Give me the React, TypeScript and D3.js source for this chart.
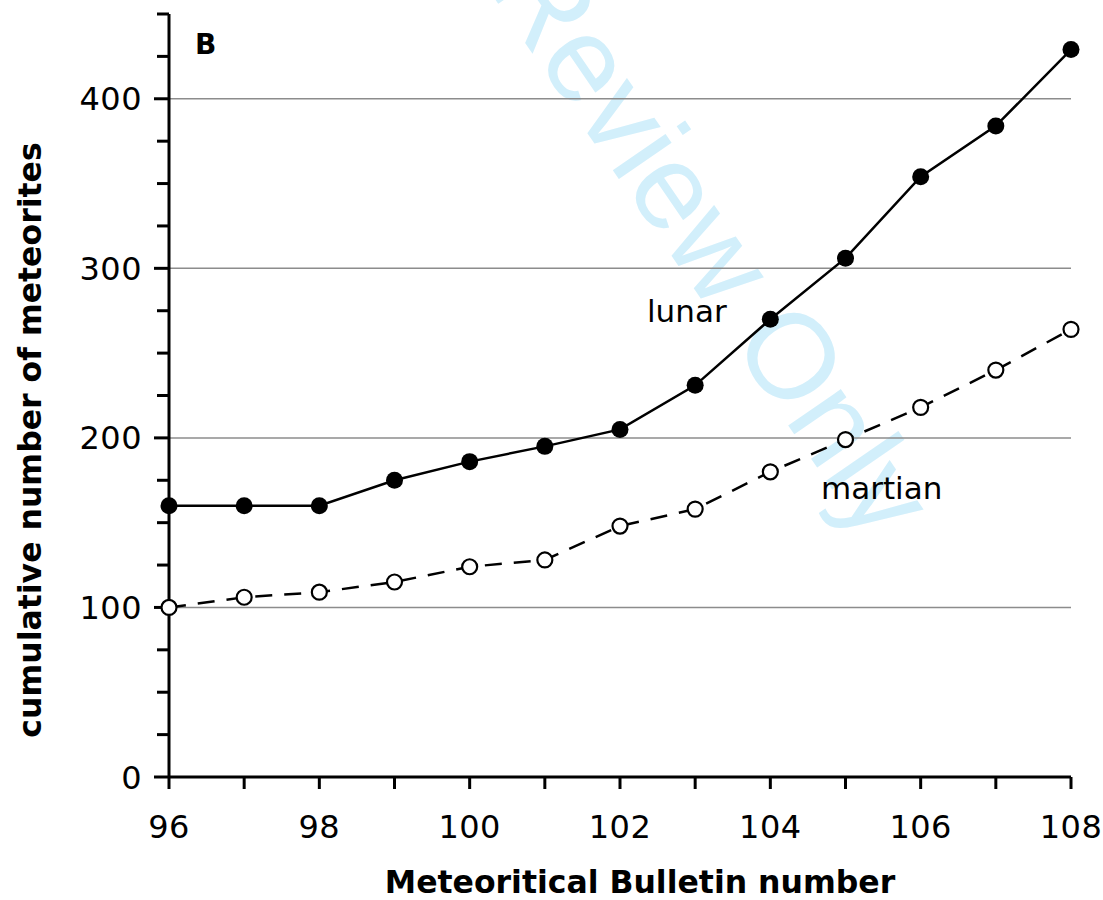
import { useEffect, useRef } from "react";
import * as d3 from "d3";

// bulletin numbers on the x axis
const bulletins = [96, 97, 98, 99, 100, 101, 102, 103, 104, 105, 106, 107, 108];
// cumulative counts
const lunar = [160, 160, 160, 175, 186, 195, 205, 231, 270, 306, 354, 384, 429];
const martian = [100, 106, 109, 115, 124, 128, 148, 158, 180, 199, 218, 240, 264];
const yLabels = [0, 100, 200, 300, 400];
const xLabels = [96, 98, 100, 102, 104, 106, 108];

const W = 1103;
const H = 900;
const margin = { top: 14, right: 32, bottom: 123, left: 169 };
const FONT = "'DejaVu Sans', Verdana, sans-serif";

export default function App() {
  const ref = useRef<SVGSVGElement>(null);

  useEffect(() => {
    const svg = d3.select(ref.current);
    svg.selectAll("*").remove();

    const x = d3.scaleLinear().domain([96, 108]).range([margin.left, W - margin.right]);
    const y = d3.scaleLinear().domain([0, 450]).range([H - margin.bottom, margin.top]);

    // watermark behind everything
    svg
      .append("text")
      .attr("transform", `translate(705,248) rotate(55.5)`)
      .attr("text-anchor", "middle")
      .attr("dominant-baseline", "middle")
      .attr("font-family", "'Liberation Sans', Arial, sans-serif")
      .attr("font-size", 121)
      .attr("fill", "#d2effb")
      .text("Review Only");

    // gridlines
    svg
      .append("g")
      .selectAll("line")
      .data(yLabels.filter((d) => d > 0))
      .join("line")
      .attr("x1", x(96))
      .attr("x2", x(108))
      .attr("y1", (d) => y(d))
      .attr("y2", (d) => y(d))
      .attr("stroke", "#8c8c8c")
      .attr("stroke-width", 1.5);

    // y axis
    const yAxis = svg.append("g").attr("transform", `translate(${x(96)},0)`);
    yAxis
      .append("line")
      .attr("y1", y(0))
      .attr("y2", y(450))
      .attr("stroke", "#000")
      .attr("stroke-width", 3);
    yAxis
      .selectAll("line.tick")
      .data(d3.range(0, 451, 25))
      .join("line")
      .attr("class", "tick")
      .attr("x1", (d) => (d % 100 === 0 ? -15 : -12))
      .attr("x2", 0)
      .attr("y1", (d) => y(d))
      .attr("y2", (d) => y(d))
      .attr("stroke", "#000")
      .attr("stroke-width", 3);
    yAxis
      .selectAll("text")
      .data(yLabels)
      .join("text")
      .attr("x", -27)
      .attr("y", (d) => y(d))
      .attr("dy", "0.36em")
      .attr("text-anchor", "end")
      .attr("font-family", FONT)
      .attr("font-size", 32)
      .attr("letter-spacing", 0.5)
      .text((d) => d);

    // x axis
    const xAxis = svg.append("g").attr("transform", `translate(0,${y(0)})`);
    xAxis
      .append("line")
      .attr("x1", x(96))
      .attr("x2", x(108))
      .attr("stroke", "#000")
      .attr("stroke-width", 3);
    xAxis
      .selectAll("line.tick")
      .data(bulletins)
      .join("line")
      .attr("class", "tick")
      .attr("x1", (d) => x(d))
      .attr("x2", (d) => x(d))
      .attr("y1", 0)
      .attr("y2", 12)
      .attr("stroke", "#000")
      .attr("stroke-width", 3);
    xAxis
      .selectAll("text")
      .data(xLabels)
      .join("text")
      .attr("x", (d) => x(d))
      .attr("y", 61)
      .attr("text-anchor", "middle")
      .attr("font-family", FONT)
      .attr("font-size", 32)
      .attr("letter-spacing", 0.5)
      .text((d) => d);

    // axis titles
    svg
      .append("text")
      .attr("x", 640)
      .attr("y", 893)
      .attr("text-anchor", "middle")
      .attr("font-family", FONT)
      .attr("font-weight", "bold")
      .attr("font-size", 31.5)
      .text("Meteoritical Bulletin number");
    svg
      .append("text")
      .attr("transform", `translate(41,440) rotate(-90)`)
      .attr("text-anchor", "middle")
      .attr("font-family", FONT)
      .attr("font-weight", "bold")
      .attr("font-size", 31.5)
      .text("cumulative number of meteorites");

    svg
      .append("text")
      .attr("x", 195)
      .attr("y", 54)
      .attr("font-family", FONT)
      .attr("font-weight", "bold")
      .attr("font-size", 28)
      .text("B");

    const line = d3
      .line<number>()
      .x((_, i) => x(bulletins[i]))
      .y((d) => y(d));

    svg
      .append("path")
      .datum(martian)
      .attr("d", line)
      .attr("fill", "none")
      .attr("stroke", "#000")
      .attr("stroke-width", 2.5)
      .attr("stroke-dasharray", "17 12");
    svg
      .append("path")
      .datum(lunar)
      .attr("d", line)
      .attr("fill", "none")
      .attr("stroke", "#000")
      .attr("stroke-width", 2.5);

    svg
      .append("g")
      .selectAll("circle")
      .data(martian)
      .join("circle")
      .attr("cx", (_, i) => x(bulletins[i]))
      .attr("cy", (d) => y(d))
      .attr("r", 7.5)
      .attr("fill", "#fff")
      .attr("stroke", "#000")
      .attr("stroke-width", 2.2);
    svg
      .append("g")
      .selectAll("circle")
      .data(lunar)
      .join("circle")
      .attr("cx", (_, i) => x(bulletins[i]))
      .attr("cy", (d) => y(d))
      .attr("r", 8.5)
      .attr("fill", "#000");

    svg
      .append("text")
      .attr("x", 647)
      .attr("y", 322)
      .attr("font-family", FONT)
      .attr("font-size", 31)
      .text("lunar");
    svg
      .append("text")
      .attr("x", 821)
      .attr("y", 499)
      .attr("font-family", FONT)
      .attr("font-size", 31)
      .text("martian");
  }, []);

  return (
    <svg
      ref={ref}
      width={W}
      height={H}
      style={{ position: "absolute", left: 0, top: 0, background: "#fff" }}
    />
  );
}
